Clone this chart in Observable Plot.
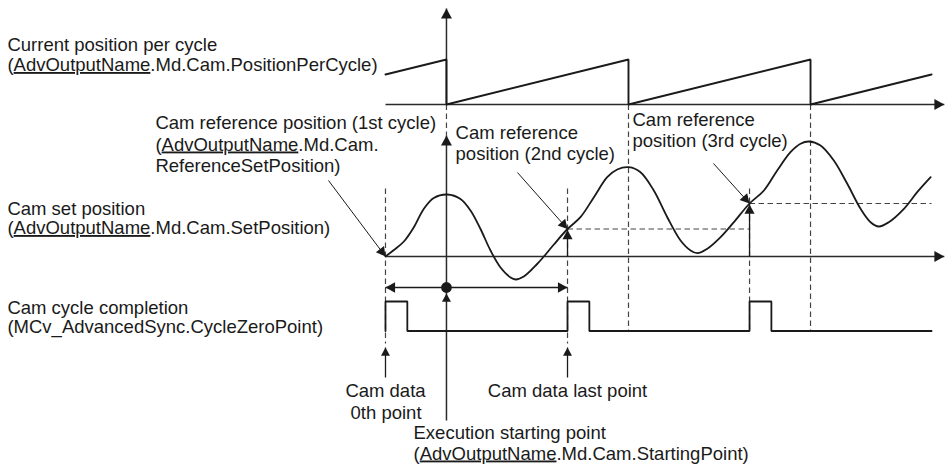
<!DOCTYPE html>
<html><head><meta charset="utf-8">
<script src="https://cdn.jsdelivr.net/npm/d3@7"></script>
<script src="https://cdn.jsdelivr.net/npm/@observablehq/plot@0.6"></script>
<style>
html,body{margin:0;padding:0;background:#fff;}
#chart svg{display:block;}
</style>
</head><body><div id="chart"></div>
<script>
// ---------------- DATA (time in % of one cam cycle; 0 = cam data 0th point) ----------------
// Current position per cycle (sawtooth), height above its axis
const sawT = [0, 33.5, 33.5, 133.5, 133.5, 233.5, 233.5, 300];
const sawV = [30, 45, 0, 45, 0, 45, 0, 30];

// Cam set position, height above its axis
const camT = [0, 4.6, 10.1, 15.5, 21.0, 26.5, 33.9, 41.2, 46.7, 52.2, 57.7, 63.2, 68.7, 71.4, 76.0, 83.3, 87.0, 92.5, 100,
              107.1, 114.5, 121.8, 127.3, 133.7, 140.1, 147.4, 154.8, 162.1, 167.6, 171.3, 176.8, 184.1, 191.4, 200,
              207.9, 215.2, 222.5, 228.0, 232.6, 239.0, 246.3, 253.7, 261.0, 266.5, 271.0, 276.5, 284.8, 292.1, 299.5];
const camV = [0, 6.5, 15, 29, 47.5, 58.5, 62, 57.5, 46, 27.5, 6, -11, -21, -23, -20, -7.5, 0, 12, 27.5,
              39.3, 59.3, 79.3, 87, 89.3, 84.3, 66, 39.3, 16, 6, 3.3, 7.7, 19.3, 34.3, 53,
              66, 86, 104.3, 112.7, 115, 111, 96, 72.7, 47.7, 34.3, 30, 34.3, 47.7, 64.3, 79.3];

// Cam cycle completion signal (0 = off, 1 = on)
const sigT = [0, 0, 12, 12, 100, 100, 112, 112, 200, 200, 212, 212, 300];
const sigV = [0, 1, 1, 0, 0, 1, 1, 0, 0, 1, 1, 0, 0];

// Cam reference positions (1st, 2nd, 3rd cycle)
const refT = [0, 100, 200];
const refV = [0, 27.5, 53];

// Cycle boundaries of current position per cycle
const resetT = [33.5, 133.5, 233.5];
const execT = 33.5;      // execution starting point
const zeroT = 0;         // cam data 0th point
const lastT = 100;       // cam data last point
const axisEndT = 307;

// Labels
const labelText = [
  "Current position per cycle",
  "(AdvOutputName.Md.Cam.PositionPerCycle)",
  "Cam reference position (1st cycle)",
  "(AdvOutputName.Md.Cam.",
  "ReferenceSetPosition)",
  "Cam set position",
  "(AdvOutputName.Md.Cam.SetPosition)",
  "Cam cycle completion",
  "(MCv_AdvancedSync.CycleZeroPoint)",
  "Cam data",
  "0th point",
  "Cam data last point",
  "Execution starting point",
  "(AdvOutputName.Md.Cam.StartingPoint)",
  "Cam reference",
  "position (2nd cycle)",
  "Cam reference",
  "position (3rd cycle)"
];

// ---------------- LAYOUT ----------------
const W = 948, H = 465;
const rowTop = 8, rowSaw = 104, rowCamTop = 135, rowCam = 256, rowSpan = 287,
      rowSigLow = 330.5, sigAmp = 29.5, rowRefTop = 188, rowDashEnd = 343,
      rowArrowTip = 347, rowArrowTail = 377, rowBottom = 420;
const sawY = v => rowSaw - v;
const camY = v => rowCam - v;
const sigY = v => rowSigLow - v * sigAmp;

const labelPos = [ // [x (time units), baseline row, anchor]
  [-207.7, 50.5, "start"], [-207.7, 70.5, "start"],
  [-126.4, 128.5, "start"], [-126.4, 150, "start"], [-126.4, 171.5, "start"],
  [-207.7, 214, "start"], [-207.7, 233.5, "start"],
  [-207.7, 313, "start"], [-207.7, 332.5, "start"],
  [0, 396, "middle"], [0.3, 418, "middle"],
  [100, 396, "middle"],
  [15.4, 438, "start"], [15.4, 459, "start"],
  [38.5, 138, "start"], [38.5, 159, "start"],
  [135.7, 125, "start"], [135.7, 146, "start"]
];

const xDomain = [-211.5, 309.3];
const xs = Plot.scale({x: {domain: xDomain, range: [0, W]}});

// ---------------- MARKS DATA ----------------
const saw = sawT.map((t, i) => ({t, y: sawY(sawV[i])}));
const cam = camT.map((t, i) => ({t, y: camY(camV[i])}));
const sig = sigT.map((t, i) => ({t, y: sigY(sigV[i])}));

const axes = [
  {x1: zeroT, y1: rowSaw, x2: axisEndT, y2: rowSaw},
  {x1: zeroT, y1: rowCam, x2: axisEndT, y2: rowCam},
  {x1: execT, y1: rowTop, x2: execT, y2: rowSaw},
  {x1: execT, y1: rowCamTop, x2: execT, y2: rowBottom}
];
const solidThin = [
  {x1: zeroT, y1: rowSpan, x2: lastT, y2: rowSpan},
  {x1: zeroT, y1: rowArrowTail, x2: zeroT, y2: rowArrowTip},
  {x1: lastT, y1: rowArrowTail, x2: lastT, y2: rowArrowTip},
  {x1: refT[1], y1: rowCam, x2: refT[1], y2: camY(refV[1])},
  {x1: refT[2], y1: rowCam, x2: refT[2], y2: camY(refV[2])}
];
const leaders = [
  {x1: -31.3, y1: 180, x2: refT[0], y2: camY(refV[0])},
  {x1: 72.5, y1: 172, x2: refT[1], y2: camY(refV[1])},
  {x1: 180.2, y1: 163, x2: refT[2], y2: camY(refV[2])}
];
const dashed = [
  {x1: execT, y1: rowSaw, x2: execT, y2: rowCamTop},
  {x1: resetT[1], y1: rowSaw, x2: resetT[1], y2: rowSigLow},
  {x1: resetT[2], y1: rowSaw, x2: resetT[2], y2: rowSigLow},
  {x1: zeroT, y1: rowRefTop, x2: zeroT, y2: rowDashEnd},
  {x1: lastT, y1: rowRefTop, x2: lastT, y2: rowDashEnd},
  {x1: refT[2], y1: rowRefTop, x2: refT[2], y2: rowSigLow},
  {x1: refT[1], y1: camY(refV[1]), x2: refT[2], y2: camY(refV[1])},
  {x1: refT[2], y1: camY(refV[2]), x2: 300, y2: camY(refV[2])}
];

function angleOf(l) {
  const dx = xs.apply(l.x2) - xs.apply(l.x1);
  const dy = l.y2 - l.y1;
  return Math.atan2(dx, -dy) * 180 / Math.PI;
}
const heads = [
  {x: execT, y: rowTop, a: 0, r: 5.6},
  {x: axisEndT, y: rowSaw, a: 90, r: 5.6},
  {x: execT, y: rowCamTop, a: 0, r: 5.6},
  {x: axisEndT, y: rowCam, a: 90, r: 5.6},
  {x: zeroT, y: rowSpan, a: -90, r: 5.4},
  {x: lastT, y: rowSpan, a: 90, r: 5.4},
  {x: execT, y: rowSpan + 6, a: 0, r: 4.6},
  {x: zeroT, y: rowArrowTip, a: 0, r: 4.6},
  {x: lastT, y: rowArrowTip, a: 0, r: 4.6},
  {x: refT[1], y: camY(refV[1]) + 1, a: 0, r: 5.2},
  {x: refT[2], y: camY(refV[2]) + 1, a: 0, r: 5.2},
  ...leaders.map(l => ({x: l.x2, y: l.y2, a: angleOf(l), r: 5.2}))
];

const arrowHead = {
  draw(context, size) {
    const h = Math.sqrt(size);
    const w = h * 1.1;
    context.moveTo(0, 0);
    context.lineTo(w / 2, h);
    context.lineTo(-w / 2, h);
    context.closePath();
  }
};

const labels = labelText.map((s, i) => ({s, x: labelPos[i][0], y: labelPos[i][1], anchor: labelPos[i][2]}));

const ink = "#1a1a1a";
const textOpts = {x: "x", y: "y", text: "s", lineAnchor: "bottom", fontSize: 18.5, fill: ink};
const plot = Plot.plot({
  width: W, height: H,
  margin: 0,
  x: {domain: xDomain, range: [0, W], axis: null},
  y: {domain: [0, H], range: [0, H], axis: null},
  r: {type: "identity"},
  style: {fontFamily: "'Liberation Sans', Arial, Helvetica, sans-serif", background: "#fff", overflow: "visible"},
  marks: [
    Plot.link(dashed, {x1: "x1", y1: "y1", x2: "x2", y2: "y2", stroke: "#444", strokeWidth: 1.2, strokeDasharray: "5.5,3.5"}),
    Plot.link(axes, {x1: "x1", y1: "y1", x2: "x2", y2: "y2", stroke: "#2a2a2a", strokeWidth: 1.5}),
    Plot.link(solidThin, {x1: "x1", y1: "y1", x2: "x2", y2: "y2", stroke: ink, strokeWidth: 1.3}),
    Plot.link(leaders, {x1: "x1", y1: "y1", x2: "x2", y2: "y2", stroke: ink, strokeWidth: 1}),
    Plot.line(saw, {x: "t", y: "y", stroke: ink, strokeWidth: 1.9, strokeLinejoin: "miter"}),
    Plot.line(cam, {x: "t", y: "y", stroke: ink, strokeWidth: 1.8, curve: "catmull-rom"}),
    Plot.line(sig, {x: "t", y: "y", stroke: ink, strokeWidth: 1.8, strokeLinejoin: "miter"}),
    Plot.dot(heads, {x: "x", y: "y", r: "r", rotate: "a", symbol: arrowHead, fill: ink, stroke: "none"}),
    Plot.dot([{x: execT, y: rowSpan}], {x: "x", y: "y", r: 5.4, fill: ink, stroke: "none"}),
    Plot.text(labels.filter(d => d.anchor === "start"), {...textOpts, textAnchor: "start"}),
    Plot.text(labels.filter(d => d.anchor === "middle"), {...textOpts, textAnchor: "middle"})
  ]
});

document.getElementById("chart").appendChild(plot);

// underline "AdvOutputName"
plot.querySelectorAll("text").forEach(t => {
  const s = t.textContent;
  const key = "AdvOutputName";
  const k = s.indexOf(key);
  if (k < 0) return;
  while (t.firstChild) t.removeChild(t.firstChild);
  const ns = "http://www.w3.org/2000/svg";
  const parts = [[s.slice(0, k), false], [key, true], [s.slice(k + key.length), false]];
  for (const [str, u] of parts) {
    if (!str) continue;
    const ts = document.createElementNS(ns, "tspan");
    ts.textContent = str;
    if (u) ts.setAttribute("text-decoration", "underline");
    t.appendChild(ts);
  }
});
</script>
</body></html>
